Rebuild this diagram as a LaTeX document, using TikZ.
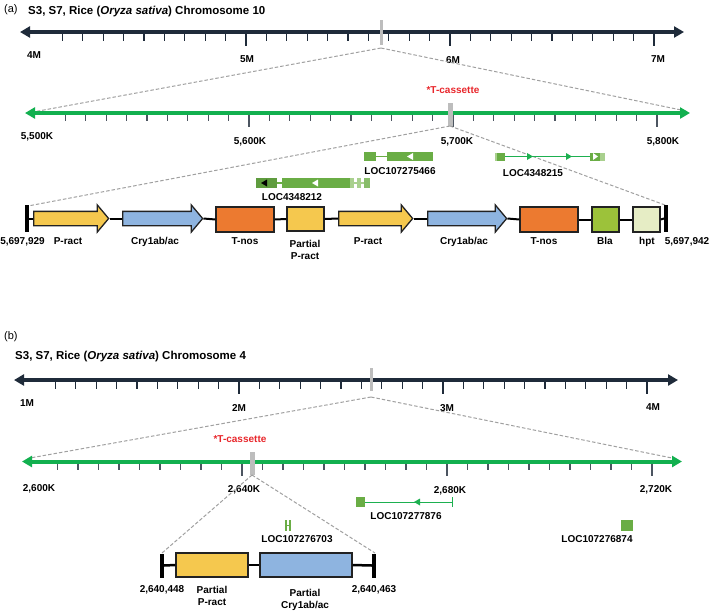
\documentclass[tikz,border=0pt]{standalone}
\usepackage{fontspec}
\setmainfont{Liberation Sans}
\usetikzlibrary{arrows.meta,shapes.arrows}
\definecolor{navy}{HTML}{1F2B3A}
\definecolor{axgreen}{HTML}{12B04F}
\definecolor{gmed}{HTML}{6AAD45}
\definecolor{glight}{HTML}{A9D08E}
\definecolor{ggreen}{HTML}{1DB050}
\definecolor{pyellow}{HTML}{F5C84E}
\definecolor{pblue}{HTML}{8EB4E0}
\definecolor{porange}{HTML}{EC7A30}
\definecolor{pbla}{HTML}{9CC23A}
\definecolor{phpt}{HTML}{E6EDC5}
\definecolor{mgray}{HTML}{BDBDBD}
\definecolor{dgray}{HTML}{A0A0A0}
\definecolor{tred}{HTML}{E8262B}
\definecolor{outl}{HTML}{222222}
\tikzset{
  lbl/.style={font=\fontsize{10}{12}\selectfont\bfseries, inner sep=0pt, text height=7.2pt, text depth=0pt, text=black},
  redlbl/.style={lbl, text=tred},
  ttl/.style={font=\fontsize{11.5}{13}\selectfont\bfseries, inner sep=0pt, anchor=west, text height=8pt, text depth=0pt},
  axisdark/.style={line width=4pt, navy, {Triangle[length=10pt,width=11pt]}-{Triangle[length=10pt,width=11pt]}},
  axisgreen/.style={line width=4pt, axgreen, {Triangle[length=10pt,width=11pt]}-{Triangle[length=10pt,width=11pt]}},
  tickdark/.style={line width=1.2pt, navy},
  tickgreen/.style={line width=1.2pt, navy!80},
  marker/.style={draw=none, fill=mgray, inner sep=0pt},
  zoomline/.style={dgray, line width=1pt, dash pattern=on 3.5pt off 2pt},
  parrow/.style={single arrow, draw=outl, line width=1.3pt, inner xsep=0pt, inner ysep=6.5pt, minimum width=26pt, single arrow head extend=6.5pt, single arrow tip angle=100, anchor=tail},
  partbox/.style={draw=outl, line width=1.3pt, inner sep=0pt},
  endbar/.style={fill=black, draw=none, inner sep=0pt, minimum width=3.5pt},
  backbone/.style={line width=2pt, black},
}
\begin{document}
\begin{tikzpicture}[x=1pt,y=-1pt]
\useasboundingbox (0,0) rectangle (709,611);

% ===================== (a) =====================
\node[font=\fontsize{11}{13}\selectfont, inner sep=0pt, anchor=west] (ta) at (4,10) {(a)};
\node[ttl] (tta) at (28,10) {S3, S7, Rice (\textit{Oryza sativa}) Chromosome 10};

% chromosome 10 axis
\coordinate (a1L) at (20,32);
\coordinate (a1R) at (684,32);
\draw[axisdark] (a1L) -- (a1R);
\foreach \k in {-9,...,20}{
  \pgfmathsetmacro{\xx}{246+20.4*\k}
  \ifnum\k=0 \draw[tickdark] (\xx,34) -- (\xx,46);
  \else\ifnum\k=10 \draw[tickdark] (\xx,34) -- (\xx,46);
  \else\ifnum\k=20 \draw[tickdark] (\xx,34) -- (\xx,46);
  \else \draw[tickdark] (\xx,34) -- (\xx,40.5);
  \fi\fi\fi
}
\node[lbl] (l4M) at (34,55) {4M};
\node[lbl] (l5M) at (247,59) {5M};
\node[lbl] (l6M) at (453,60) {6M};
\node[lbl] (l7M) at (658,59) {7M};
\node[marker, minimum width=3pt, minimum height=25pt] (ma1) at (381,32.5) {};

% zoom lines
\coordinate (za1) at (381,48);
\coordinate (za1L) at (33,112);
\coordinate (za1R) at (686,111);
\draw[zoomline] (za1) -- (za1L);
\draw[zoomline] (za1) -- (za1R);

% green axis
\coordinate (a2L) at (25,113);
\coordinate (a2R) at (690,113);
\draw[axisgreen] (a2L) -- (a2R);
\foreach \k in {-9,...,20}{
  \pgfmathsetmacro{\xx}{249+20.4*\k}
  \ifnum\k=0 \draw[tickgreen] (\xx,115) -- (\xx,127);
  \else\ifnum\k=10 \draw[tickgreen] (\xx,115) -- (\xx,127);
  \else\ifnum\k=20 \draw[tickgreen] (\xx,115) -- (\xx,127);
  \else \draw[tickgreen] (\xx,115) -- (\xx,121);
  \fi\fi\fi
}
\node[lbl] (g55) at (37,136) {5,500K};
\node[lbl] (g56) at (250,141) {5,600K};
\node[lbl] (g57) at (457,141) {5,700K};
\node[lbl] (g58) at (663,141) {5,800K};
\node[marker, minimum width=5pt, minimum height=23pt] (ma2) at (450,114.5) {};
\node[redlbl] (tca) at (453,90) {*T-cassette};

% zoom lines to construct
\coordinate (za2) at (450,126);
\coordinate (za2L) at (28,206);
\coordinate (za2R) at (665,205);
\draw[zoomline] (za2) -- (za2L);
\draw[zoomline] (za2) -- (za2R);

% genes (a)
% LOC107275466
\fill[gmed] (364,152) rectangle (376,161);
\draw[gmed, line width=1.2pt] (376,156.5) -- (387,156.5);
\fill[gmed] (387,152) rectangle (433,161);
\fill[white] (407,156.5) -- (413,153) -- (413,160) -- cycle;
\node[lbl] (gA1) at (400,171) {LOC107275466};
% LOC4348212
\fill[gmed!90!black] (256,178) rectangle (277,188);
\fill[black] (261,183) -- (267,179.5) -- (267,186.5) -- cycle;
\draw[gmed, line width=1.2pt] (277,183) -- (282,183);
\fill[gmed] (282,178) rectangle (350,188);
\fill[white] (312,183) -- (318,179.5) -- (318,186.5) -- cycle;
\fill[glight] (350,178) rectangle (354,188);
\draw[glight, line width=1.2pt] (354,183) -- (364,183);
\fill[glight] (357,178) rectangle (361,188);
\fill[gmed!80!white] (364,178) rectangle (370,188);
\node[lbl] (gA2) at (292,197) {LOC4348212};
% LOC4348215
\fill[gmed] (495,152.5) rectangle (505,160.5);
\fill[glight] (495,152.5) rectangle (497,160.5);
\draw[ggreen, line width=1pt] (505,156.5) -- (590,156.5);
\fill[ggreen] (533,156.5) -- (527,153) -- (527,160) -- cycle;
\fill[ggreen] (572,156.5) -- (566,153) -- (566,160) -- cycle;
\fill[gmed] (590,152.5) rectangle (600,160.5);
\fill[glight] (600,152.5) rectangle (605,160.5);
\fill[white] (598,156.5) -- (593,153) -- (593,160) -- cycle;
\node[lbl] (gA3) at (533,173) {LOC4348215};

% construct (a)
\node[endbar, minimum height=27pt] (lb1) at (27,218.5) {};
\node[endbar, minimum height=27pt] (rb1) at (666,218.5) {};
\node[parrow, fill=pyellow, minimum height=75pt] (pr1) at (33,218.5) {};
\node[parrow, fill=pblue, minimum height=80pt] (cr1) at (122,218.5) {};
\node[partbox, fill=porange, minimum width=58pt, minimum height=25pt] (tn1) at (245,219.5) {};
\node[partbox, fill=pyellow, minimum width=37pt, minimum height=24pt] (pp1) at (305.5,219) {};
\node[parrow, fill=pyellow, minimum height=74pt] (pr2) at (338,218.5) {};
\node[parrow, fill=pblue, minimum height=79pt] (cr2) at (427,218.5) {};
\node[partbox, fill=porange, minimum width=58pt, minimum height=25pt] (tn2) at (549,219.5) {};
\node[partbox, fill=pbla, minimum width=27pt, minimum height=25pt] (bla) at (605.5,219.5) {};
\node[partbox, fill=phpt, minimum width=27pt, minimum height=25pt] (hpt) at (646.5,219.5) {};
\draw[backbone] (lb1.east) -- (pr1.tail);
\draw[backbone] (pr1.tip) -- (cr1.tail);
\draw[backbone] (cr1.tip) -- (tn1.west);
\draw[backbone] (tn1.east) -- (pp1.west);
\draw[backbone] (pp1.east) -- (pr2.tail);
\draw[backbone] (pr2.tip) -- (cr2.tail);
\draw[backbone] (cr2.tip) -- (tn2.west);
\draw[backbone] (tn2.east) -- (bla.west);
\draw[backbone] (bla.east) -- (hpt.west);
\draw[backbone] (hpt.east) -- (rb1.west);

\node[lbl] (c1) at (22.5,241) {5,697,929};
\node[lbl] (c2) at (68,241) {P-ract};
\node[lbl] (c3) at (155,241) {Cry1ab/ac};
\node[lbl] (c4) at (245,241) {T-nos};
\node[lbl] (c5) at (305,243.5) {Partial};
\node[lbl] (c5b) at (305,256) {P-ract};
\node[lbl] (c6) at (368,241) {P-ract};
\node[lbl] (c7) at (464,241) {Cry1ab/ac};
\node[lbl] (c8) at (544,241) {T-nos};
\node[lbl] (c9) at (605,241) {Bla};
\node[lbl] (c10) at (647,241) {hpt};
\node[lbl] (c11) at (687,241) {5,697,942};

% ===================== (b) =====================
\node[font=\fontsize{11}{13}\selectfont, inner sep=0pt, anchor=west] (tb) at (4,337) {(b)};
\node[ttl] (ttb) at (15,355) {S3, S7, Rice (\textit{Oryza sativa}) Chromosome 4};

\coordinate (b1L) at (14,380);
\coordinate (b1R) at (678,380);
\draw[axisdark] (b1L) -- (b1R);
\foreach \k in {-9,...,20}{
  \pgfmathsetmacro{\xx}{239+20.4*\k}
  \ifnum\k=0 \draw[tickdark] (\xx,382) -- (\xx,394);
  \else\ifnum\k=10 \draw[tickdark] (\xx,382) -- (\xx,394);
  \else\ifnum\k=20 \draw[tickdark] (\xx,382) -- (\xx,394);
  \else \draw[tickdark] (\xx,382) -- (\xx,388.5);
  \fi\fi\fi
}
\node[lbl] (l1M) at (27,403) {1M};
\node[lbl] (l2M) at (239,408) {2M};
\node[lbl] (l3M) at (447,408) {3M};
\node[lbl] (l4Mb) at (653,407) {4M};
\node[marker, minimum width=3pt, minimum height=23pt] (mb1) at (371,379) {};

\coordinate (zb1) at (371,397);
\coordinate (zb1L) at (30,458);
\coordinate (zb1R) at (672,458);
\draw[zoomline] (zb1) -- (zb1L);
\draw[zoomline] (zb1) -- (zb1R);

\coordinate (b2L) at (22,461.5);
\coordinate (b2R) at (682,461.5);
\draw[axisgreen] (b2L) -- (b2R);
\foreach \k in {-9,...,20}{
  \pgfmathsetmacro{\xx}{242+20.5*\k}
  \ifnum\k=0 \draw[tickgreen] (\xx,463.5) -- (\xx,475.5);
  \else\ifnum\k=10 \draw[tickgreen] (\xx,463.5) -- (\xx,475.5);
  \else\ifnum\k=20 \draw[tickgreen] (\xx,463.5) -- (\xx,475.5);
  \else \draw[tickgreen] (\xx,463.5) -- (\xx,469.5);
  \fi\fi\fi
}
\node[lbl] (h60) at (39,488) {2,600K};
\node[lbl] (h64) at (244,489) {2,640K};
\node[lbl] (h68) at (450,490) {2,680K};
\node[lbl] (h72) at (656,489) {2,720K};
\node[marker, minimum width=5pt, minimum height=23pt] (mb2) at (252,463.5) {};
\node[redlbl] (tcb) at (240,439) {*T-cassette};

\coordinate (zb2) at (252,475);
\coordinate (zb2L) at (162,553);
\coordinate (zb2R) at (375,553);
\draw[zoomline] (zb2) -- (zb2L);
\draw[zoomline] (zb2) -- (zb2R);

% genes (b)
\fill[gmed] (284.5,520) rectangle (286.5,531);
\fill[gmed] (288.5,520) rectangle (290.5,531);
\draw[gmed, line width=1pt] (286.5,525.5) -- (288.5,525.5);
\node[lbl] (gB1) at (297,539) {LOC107276703};
\fill[gmed] (356,497) rectangle (365,507);
\draw[ggreen, line width=1pt] (365,502) -- (452,502);
\draw[ggreen, line width=1pt] (452,497) -- (452,507);
\fill[ggreen] (414,502) -- (420,498.5) -- (420,505.5) -- cycle;
\node[lbl] (gB2) at (406,516) {LOC107277876};
\fill[gmed] (621,520) rectangle (633,531);
\node[lbl] (gB3) at (597,539) {LOC107276874};

% construct (b)
\node[endbar, minimum height=24pt] (lb2) at (162,565.5) {};
\node[endbar, minimum height=24pt] (rb2) at (374,565.5) {};
\node[partbox, fill=pyellow, minimum width=72pt, minimum height=24pt] (ppb) at (212,565) {};
\node[partbox, fill=pblue, minimum width=92pt, minimum height=24pt] (pcb) at (306,565) {};
\draw[backbone, line width=2.5pt] (lb2.east) -- (ppb.west);
\draw[backbone, line width=2.5pt] (ppb.east) -- (pcb.west);
\draw[backbone, line width=2.5pt] (pcb.east) -- (rb2.west);

\node[lbl] (d1) at (162,589) {2,640,448};
\node[lbl] (d2) at (212,590) {Partial};
\node[lbl] (d2b) at (212,602) {P-ract};
\node[lbl] (d3) at (305,593) {Partial};
\node[lbl] (d3b) at (305,605) {Cry1ab/ac};
\node[lbl] (d4) at (374,589) {2,640,463};
\end{tikzpicture}
\end{document}
